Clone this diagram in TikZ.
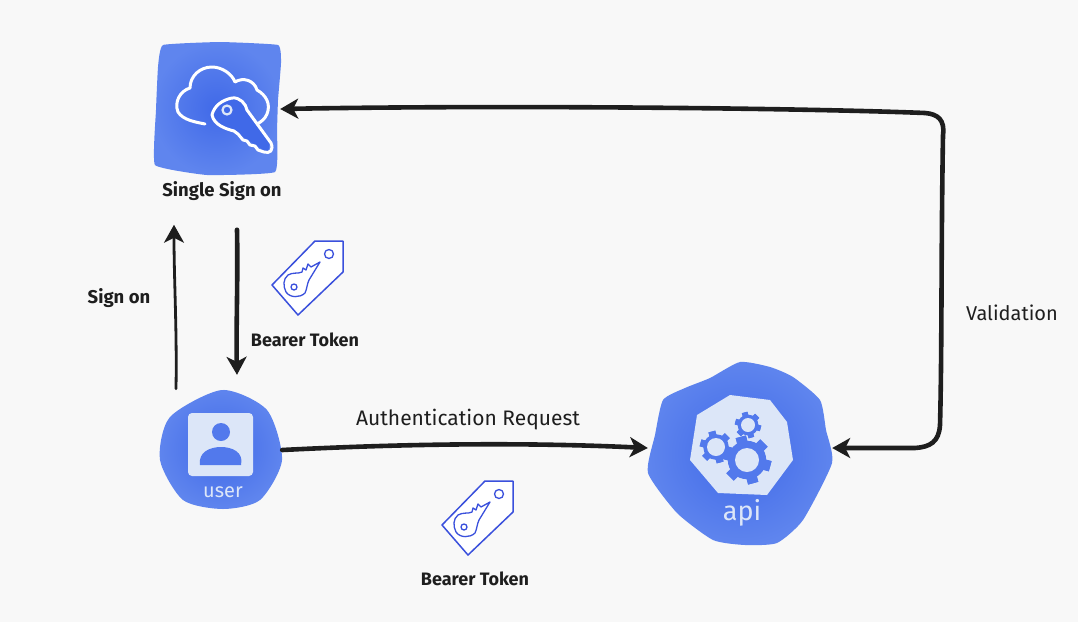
\documentclass[tikz,border=0pt]{standalone}
\usepackage{fontspec}
\setmainfont{Fira Sans}
\usetikzlibrary{arrows.meta}
\definecolor{paper}{HTML}{F8F8F8}
\definecolor{blobmid}{HTML}{5279EC}
\definecolor{blobdark}{HTML}{4069E8}
\definecolor{bloblight}{HTML}{5F85EE}
\definecolor{panel}{HTML}{DCE6F8}
\definecolor{inkline}{HTML}{1E1E1E}
\definecolor{tagline}{HTML}{3A50DC}
\newcommand{\gearicon}[4]{% x, y, outer radius, hole radius
	\foreach \a in {0,60,...,300} {
		\fill[blobmid, rotate around={\a+15:(#1,#2)}] (#1-0.22*#3,#2-#3) rectangle (#1+0.22*#3,#2+#3);
	}
	\fill[blobmid] (#1,#2) circle (0.8*#3);
	\fill[panel] (#1,#2) circle (#4);
}
\tikzset{
	tipfat/.tip={Stealth[length=18pt,width=20pt,inset=5pt]},
	flow/.style={draw=inkline, line width=4.6pt, line cap=round, -tipfat},
	thinflow/.style={flow, line width=2.8pt},
	label/.style={text=inkline, inner sep=0pt},
	icontext/.style={text=panel, inner sep=0pt},
	anchorbox/.style={inner sep=0pt, minimum width=#1, minimum height=#1},
	softblob/.style={inner color=blobdark, outer color=bloblight, draw=none},
	tagkey/.pic={
		\draw[tagline, line width=1.5pt, fill=white, line join=round] (0,0) -- (43,-44) -- (71,-44) -- (71,-13) -- (26,30) -- cycle;
		\draw[tagline, line width=1.3pt] (57,-31) circle (4.5);
		\draw[tagline, line width=1.3pt, line join=round] (16,-10) .. controls (21,-13) and (26,-11) .. (30,-13)
			-- (31,-17) -- (34,-15) -- (36,-21) -- (39,-18) -- (48,-23) -- (37,-5)
			.. controls (35,-1) and (35,4) .. (33,8) .. controls (28,13) and (18,13) .. (14,7)
			.. controls (11,1) and (11,-6) .. (16,-10) -- cycle;
		\draw[tagline, line width=1.3pt] (22,2) circle (3);
	}
}

\begin{document}
\begin{tikzpicture}[x=1pt, y=-1pt]
	\fill[paper] (0,0) rectangle (1078,622);

	% single sign on
	\shade[softblob] plot[smooth cycle, tension=0.2] coordinates {(163,45) (220,42) (278,45) (281,63) (278,100) (277,130) (275,172) (207,175) (155,165) (156,110) (158,67)};
	\node[anchorbox=124pt] (sso) at (218,109) {};
	\draw[white, line width=3pt, line cap=round, line join=round] (205,124) .. controls (195,122) and (183,120) .. (178,112)
		.. controls (174,102) and (180,91) .. (190,88)
		.. controls (190,76) and (200,67) .. (212,67)
		.. controls (222,67) and (232,74) .. (235,82)
		.. controls (243,77) and (254,80) .. (257,90)
		.. controls (266,95) and (271,104) .. (267,114)
		.. controls (265,119) and (261,122) .. (257,124);
	\fill[blobdark] (212,115) -- (220,102) -- (237,98) -- (247,110) -- (270,142) -- (268,153) -- (237,133) -- (220,125) -- cycle;
	\draw[white, line width=3pt, line join=round] (212,115) .. controls (214,106) and (222,100) .. (232,98)
		.. controls (240,97) and (246,104) .. (247,110) -- (271,143)
		.. controls (274,150) and (270,154) .. (264,152) -- (258,150) -- (255,146) -- (250,145) -- (247,141) -- (243,140) -- (238,134) -- (234,131)
		.. controls (226,129) and (214,125) .. (212,115) -- cycle;
	\draw[panel, line width=2.2pt] (227,110) circle (4.5);
	\node[label, font=\fontsize{18.5}{20}\selectfont\bfseries] (ssolabel) at (222,191) {Single Sign on};

	% user
	\shade[softblob] plot[smooth cycle, tension=0.45] coordinates {(222,390) (267,410) (282,460) (260,500) (223,509) (183,500) (160,460) (170,417)};
	\node[anchorbox=122pt] (user) at (221,450) {};
	\fill[panel, rounded corners=4pt] (188,413) rectangle (253,476);
	\fill[blobmid] (221,432) circle (9);
	\fill[blobmid] (200,465) .. controls (198,452) and (210,447) .. (221,447) .. controls (232,447) and (244,452) .. (241,465) -- cycle;
	\node[icontext, font=\fontsize{20}{22}\selectfont] (userlabel) at (223,492) {user};

	% api
	\shade[softblob] plot[smooth cycle, tension=0.35] coordinates {(740,362) (770,367) (793,377) (820,400) (826,430) (832,463) (803,520) (777,543) (745,545) (713,540) (677,513) (648,473) (655,435) (663,400) (685,388) (710,378)};
	\node[anchorbox=184pt] (api) at (740,448) {};
	\fill[panel, line join=round] (730,395) -- (770,400) -- (787,422) -- (793,460) -- (767,495) -- (718,493) -- (690,460) -- (697,415) -- cycle;
	\gearicon{716}{447}{16}{9}
	\gearicon{748}{425}{13}{7}
	\gearicon{747}{460}{24}{12}
	\node[icontext, font=\fontsize{27}{29}\selectfont] (apilabel) at (742,513) {api};

	% tags
	\pic at (272,285) {tagkey};
	\pic at (442,525) {tagkey};

	% arrows
	\draw[thinflow] ([xshift=-45pt]user.north) .. controls (177,330) and (174,280) .. ([xshift=-48pt, yshift=-24pt]ssolabel.south);
	\draw[flow] ([xshift=15pt, yshift=-29pt]ssolabel.south) .. controls (238,280) and (236,330) .. ([xshift=16pt, yshift=14pt]user.north);
	\draw[flow] (user.east) .. controls (400,444) and (520,442) .. (api.west);
	\draw[flow, tipfat-tipfat] (sso.east) .. controls (500,105) and (800,108) .. (925,113)
		.. controls (938,114) and (945,120) .. (943,135)
		.. controls (941,250) and (942,350) .. (940,425)
		.. controls (939,442) and (930,447) .. (915,448) -- (api.east);

	% labels
	\node[label, font=\fontsize{18.5}{20}\selectfont\bfseries] (signonlabel) at (119,298) {Sign on};
	\node[label, font=\fontsize{18}{20}\selectfont\bfseries] (tokenlabela) at (305,340) {Bearer Token};
	\node[label, font=\fontsize{21}{23}\selectfont] (authlabel) at (468,420) {Authentication Request};
	\node[label, font=\fontsize{18}{20}\selectfont\bfseries] (tokenlabelb) at (475,579) {Bearer Token};
	\node[label, font=\fontsize{20}{22}\selectfont] (validlabel) at (1012,313) {Validation};
\end{tikzpicture}
\end{document}
